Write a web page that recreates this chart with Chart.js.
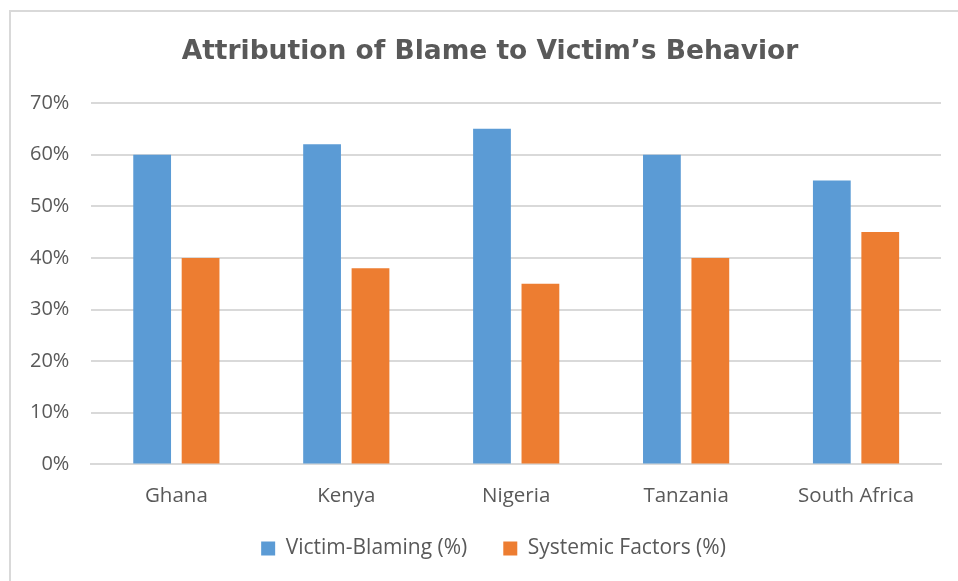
<!DOCTYPE html>
<html>
<head>
<meta charset="utf-8">
<script src="https://cdn.jsdelivr.net/npm/chart.js@4"></script>
<style>
html,body{margin:0;padding:0;background:#fff;}
#wrap{position:relative;width:958px;height:581px;}
#frame{position:absolute;left:9px;top:10px;width:960px;height:600px;border-left:2px solid #d9d9d9;border-top:2px solid #d9d9d9;}
canvas{position:absolute;left:0;top:0;}
</style>
</head>
<body>
<div id="wrap"><div id="frame"></div><canvas id="c" width="958" height="581"></canvas></div>
<script>
const categories = ["Ghana", "Kenya", "Nigeria", "Tanzania", "South Africa"];
const victimBlaming = [60, 62, 65, 60, 55];
const systemicFactors = [40, 38, 35, 40, 45];
const seriesNames = ["Victim-Blaming (%)", "Systemic Factors (%)"];
const chartTitle = "Attribution of Blame to Victim\u2019s Behavior";

const txt = "#595959";
const titlePlugin = {
  id: "offsetTitle",
  afterLayout(chart) {
    if (chart.legend) {
      chart.legend.left += 19; chart.legend.right += 19;
      chart.legend.top -= 10; chart.legend.bottom -= 10;
    }
  },
  afterDraw(chart) {
    const ctx = chart.ctx;
    ctx.save();
    ctx.fillStyle = txt;
    ctx.font = "bold 26.5px 'DejaVu Sans'";
    ctx.textAlign = "center";
    ctx.textBaseline = "middle";
    ctx.fillText(chartTitle, 490, 52);
    ctx.restore();
  }
};
new Chart(document.getElementById("c"), {
  type: "bar",
  data: {
    labels: categories,
    datasets: [
      {label: seriesNames[0], data: victimBlaming, backgroundColor: "#5B9BD5", categoryPercentage: 0.57, barPercentage: 0.78},
      {label: seriesNames[1], data: systemicFactors, backgroundColor: "#ED7D31", categoryPercentage: 0.57, barPercentage: 0.78}
    ]
  },
  plugins: [titlePlugin],
  options: {
    responsive: false,
    animation: false,
    layout: {padding: {left: 8, right: 17, top: 103, bottom: 2}},
    plugins: {
      title: {display: false},
      legend: {position: "bottom", labels: {color: txt, font: {family: "Open Sans", size: 21},
        boxWidth: 14, boxHeight: 14, padding: 36}},
      tooltip: {enabled: false}
    },
    scales: {
      x: {grid: {display: false}, border: {color: "#d9d9d9", width: 2},
        afterFit: s => { s.height -= 7; },
        ticks: {color: txt, font: {family: "Open Sans", size: 20.5}, padding: 11}},
      y: {min: 0, max: 70, grid: {color: "#d9d9d9", lineWidth: 2, drawTicks: false},
        border: {display: false},
        ticks: {stepSize: 10, color: txt, font: {family: "Open Sans", size: 20}, padding: 22,
          callback: v => v + "%"}}
    }
  }
});
</script>
</body>
</html>
